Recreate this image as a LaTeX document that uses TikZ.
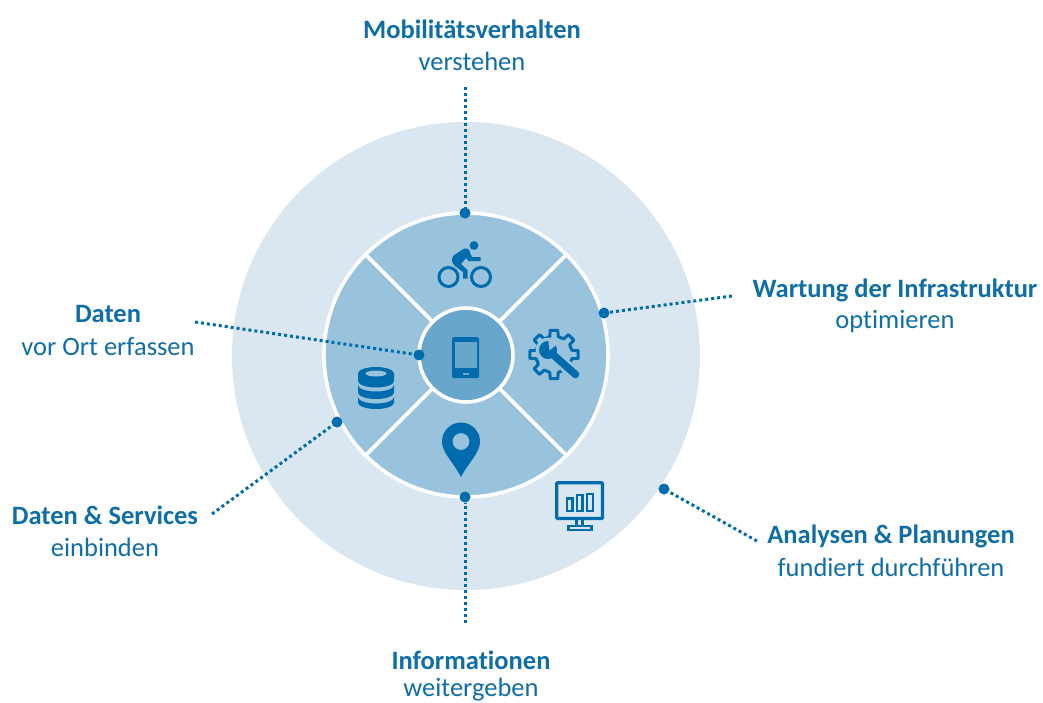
\documentclass[tikz,border=0pt]{standalone}
\usepackage{fontspec}
\setmainfont{Carlito}[Ligatures=NoCommon]
\usetikzlibrary{calc}
\definecolor{ringa}{HTML}{DAE7F1}
\definecolor{ringb}{HTML}{99C2DD}
\definecolor{ringc}{HTML}{69A6CC}
\definecolor{deep}{HTML}{006BAD}
\definecolor{txt}{HTML}{0F6DA8}
\tikzset{
  pin/.style={circle,fill=deep,inner sep=0pt,minimum size=11pt},
  link/.style={draw=deep,line width=3pt,dash pattern=on 3pt off 3pt},
  sep/.style={draw=white,line width=3.6pt},
  head/.style={text=txt,font=\fontsize{26.5}{30}\selectfont\bfseries,anchor=center,inner sep=0pt},
  sub/.style={text=txt,font=\fontsize{26.5}{30}\selectfont,anchor=center,inner sep=0pt},
  icon/.style={fill=deep,draw=none},
  iconline/.style={draw=deep,fill=none}
}
\begin{document}
\begin{tikzpicture}[x=1pt,y=-1pt]
\useasboundingbox (0,0) rectangle (1043,702);
\clip (0,0) rectangle (1043,702);
% discs
\node[circle,fill=ringa,minimum size=468pt,inner sep=0pt] (outer) at (466,356) {};
\node[circle,fill=ringb,draw=white,line width=3.6pt,minimum size=284pt,inner sep=0pt] (middle) at (466,355) {};
\draw[sep] (466,355) ++(-45:141) -- ++(135:282);
\draw[sep] (466,355) ++(45:141) -- ++(225:282);
\node[circle,fill=ringc,draw=white,line width=3.6pt,minimum size=94pt,inner sep=0pt] (inner) at (466,355) {};
% bike
\draw[iconline,line width=3pt] (448.5,277) circle (9.5) (481,277) circle (9.5);
\fill[icon] (474,245.5) circle (4.4);
\fill[icon] (453,256) -- (464,248.5) .. controls (468,248) and (470,250) .. (470,253) -- (472,257) -- (480.5,257) -- (480.5,261) -- (468.5,261) -- (466,258) -- (461,264) -- (467.5,270) -- (467.5,278.5) -- (463,278.5) -- (463,272) -- (455,266) .. controls (452,263) and (451,260) .. cycle;
% gear
\begin{scope}[shift={(554,354.5)}]
\foreach \a in {0,45,...,315}{
  \draw[iconline,line width=3pt,line join=round,line cap=round]
    ({\a-22.5}:18) -- ({\a-13}:18.5) -- ({\a-9}:24.5) -- ({\a+9}:24.5) -- ({\a+13}:18.5) -- ({\a+22.5}:18);
}
\end{scope}
% wrench
\draw[ringb,line width=13pt,line cap=round] (549,351) -- (577,376);
\fill[ringb] (548,350) circle (12.5);
\draw[deep,line width=7.5pt,line cap=round] (549,351) -- (575.5,374.5);
\fill[icon] (548,350) circle (9);
\fill[ringb] (549.5,350.5) -- (548,338) -- (560,342) -- cycle;
% tablet
\fill[icon,rounded corners=1.5pt] (452,337) rectangle (479,378);
\fill[ringc] (455,342) rectangle (477,368);
\fill[ringc] (463,372.5) rectangle (469,375);
% database
\fill[icon] (358,373.5) arc[start angle=180,end angle=360,x radius=18,y radius=6.5] -- (394,381) arc[start angle=0,end angle=180,x radius=18,y radius=6.5] -- cycle;
\fill[ringb] (376,373.5) ellipse (10.5 and 3);
\fill[icon] (358,385) arc[start angle=180,end angle=0,x radius=18,y radius=6.5] -- (394,392.5) arc[start angle=0,end angle=180,x radius=18,y radius=6.5] -- cycle;
\fill[icon] (358,397) arc[start angle=180,end angle=0,x radius=18,y radius=6.5] -- (394,402.5) arc[start angle=0,end angle=180,x radius=18,y radius=6.5] -- cycle;
% map pin
\fill[icon,even odd rule] (461,477) .. controls (454,463) and (442,453) .. (442,441.5) arc[start angle=180,end angle=360,radius=19] .. controls (480,453) and (468,463) .. (461,477) -- cycle
 (469.5,441.5) arc[start angle=0,end angle=360,radius=8.5] -- cycle;
% monitor
\draw[iconline,line width=3.4pt,rounded corners=1pt] (556.7,482.7) rectangle (602.5,518.5);
\draw[iconline,line width=2.2pt] (567,498.5) rectangle (572.5,511);
\draw[iconline,line width=2.2pt] (577,495) rectangle (582.5,511);
\draw[iconline,line width=2.2pt] (587,494) rectangle (593,511);
\draw[iconline,line width=2.2pt] (576.5,520) -- (576.5,526) (582.5,520) -- (582.5,526);
\draw[iconline,line width=2.2pt] (568.5,526) rectangle (591.5,530);
% anchor points
\node[pin] (ptop) at (465,213) {};
\node[pin] (pright) at (604,313) {};
\node[pin] (panalyse) at (664,489) {};
\node[pin] (pbottom) at (465,497) {};
\node[pin] (pservice) at (337,422) {};
\node[pin] (pdaten) at (419,355) {};
\coordinate (etop) at (465,87);
\coordinate (eright) at (732,296);
\coordinate (eanalyse) at (757,541);
\coordinate (ebottom) at (465,623);
\coordinate (eservice) at (212,514);
\coordinate (edaten) at (195,322);
\draw[link] (etop) -- (ptop);
\draw[link] (eright) -- (pright);
\draw[link] (eanalyse) -- (panalyse);
\draw[link] (ebottom) -- (pbottom);
\draw[link] (eservice) -- (pservice);
\draw[link] (edaten) -- (pdaten);
% labels
\node[head] (l1a) at (472,29) {Mobilitätsverhalten};
\node[sub] (l1b) at (472,61) {verstehen};
\node[head] (l2a) at (895,290) {Wartung der Infrastruktur};
\node[sub] (l2b) at (895,322) {optimieren};
\node[head] (l3a) at (108,314) {Daten};
\node[sub] (l3b) at (108,347) {vor Ort erfassen};
\node[head] (l4a) at (105,515) {Daten \& Services};
\node[sub] (l4b) at (105,547) {einbinden};
\node[head] (l5a) at (891,536) {Analysen \& Planungen};
\node[sub] (l5b) at (891,567) {fundiert durchführen};
\node[head] (l6a) at (471,660) {Informationen};
\node[sub] (l6b) at (471,690) {weitergeben};
\end{tikzpicture}
\end{document}
